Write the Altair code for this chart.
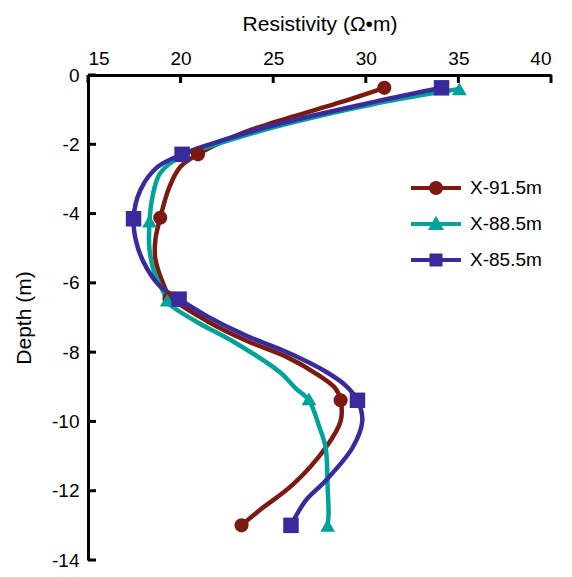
import altair as alt
import pandas as pd

series = ["X-91.5m", "X-88.5m", "X-85.5m"]
colors = ["#7c1a12", "#00a39a", "#3a2b9c"]
shapes = ["circle", "triangle-up", "square"]
sizes = [200, 240, 190]

# line traces (resistivity, depth)
line_res_915 = [31.0, 28.74, 25.16, 23.4, 20.94, 19.97, 19.39, 18.9, 18.64, 18.64, 19.12, 19.39,
                21.42, 23.56, 25.7, 27.46, 28.37, 28.64, 28.64, 27.83, 26.07, 24.25, 23.29]
line_dep_915 = [-0.37, -0.77, -1.35, -1.66, -2.29, -2.66, -3.24, -4.12, -4.75, -5.32, -6.1, -6.38,
                -7.1, -7.67, -8.13, -8.67, -9.05, -9.39, -9.99, -10.76, -11.82, -12.57, -13.0]

line_res_885 = [35.05, 30.51, 25.16, 21.58, 20.13, 18.9, 18.48, 18.32, 18.32, 18.58, 19.17, 19.28,
                20.88, 22.86, 25.32, 26.23, 26.93, 27.46, 27.83, 27.94, 27.99, 27.94]
line_dep_885 = [-0.4, -0.83, -1.49, -2.06, -2.32, -2.83, -3.52, -4.24, -5.04, -5.7, -6.38, -6.56,
                -7.13, -7.7, -8.56, -9.05, -9.39, -10.11, -10.76, -11.91, -12.68, -13.0]

line_res_855 = [34.09, 30.51, 25.16, 21.58, 20.08, 18.74, 17.83, 17.46, 17.67, 18.21, 18.9, 19.92,
                21.42, 23.56, 25.7, 27.83, 28.9, 29.55, 29.81, 29.28, 27.83, 26.76, 25.96]
line_dep_855 = [-0.37, -0.77, -1.43, -2.0, -2.29, -2.66, -3.32, -4.15, -4.95, -5.61, -6.1, -6.47,
                -6.96, -7.53, -7.99, -8.56, -8.96, -9.39, -9.99, -10.76, -11.71, -12.28, -13.0]

# marker points
mk_res_915 = [31.0, 20.94, 18.9, 19.4, 28.64, 23.29]
mk_dep_915 = [-0.37, -2.29, -4.12, -6.45, -9.39, -13.0]
mk_res_885 = [35.05, 20.13, 18.32, 19.28, 26.93, 27.94]
mk_dep_885 = [-0.4, -2.32, -4.22, -6.5, -9.35, -13.0]
mk_res_855 = [34.09, 20.08, 17.46, 19.92, 29.55, 25.96]
mk_dep_855 = [-0.37, -2.29, -4.15, -6.47, -9.39, -13.0]

x_ticks = [15, 20, 25, 30, 35, 40]
y_ticks = [0, -2, -4, -6, -8, -10, -12, -14]

lines = []
for s, rr, dd in [(series[0], line_res_915, line_dep_915),
                  (series[1], line_res_885, line_dep_885),
                  (series[2], line_res_855, line_dep_855)]:
    for i, (r, d) in enumerate(zip(rr, dd)):
        lines.append({"series": s, "res": r, "depth": d, "idx": i})
line_df = pd.DataFrame(lines)

marks = []
for s, rr, dd in [(series[0], mk_res_915, mk_dep_915),
                  (series[1], mk_res_885, mk_dep_885),
                  (series[2], mk_res_855, mk_dep_855)]:
    for r, d in zip(rr, dd):
        marks.append({"pseries": s, "pshape": s, "psize": s, "res": r, "depth": d})
mark_df = pd.DataFrame(marks)

FONT = "Liberation Sans"

xscale = alt.Scale(domain=[15, 40], nice=False, zero=False)
yscale = alt.Scale(domain=[-14, 0], nice=False, zero=False)

# legend symbol paths (line + marker)
bar = "M-1.667,-0.133H1.667V0.133H-1.667Z"
p_circle = bar + "M-0.467,0A0.467,0.467 0 1,1 0.467,0A0.467,0.467 0 1,1 -0.467,0Z"
p_tri = bar + "M0,-0.55L0.533,0.4L-0.533,0.4Z"
p_sq = bar + "M-0.433,-0.433H0.433V0.433H-0.433Z"
shape_expr = (f"datum.value === '{series[0]}' ? '{p_circle}' : "
              f"datum.value === '{series[1]}' ? '{p_tri}' : '{p_sq}'")
fill_expr = (f"datum.value === '{series[0]}' ? '{colors[0]}' : "
             f"datum.value === '{series[1]}' ? '{colors[1]}' : '{colors[2]}'")

legend = alt.Legend(
    title=None, orient="none", legendX=333, legendY=98, padding=0,
    symbolSize=900, labelOffset=19, rowPadding=11,
    symbolType=alt.ExprRef(expr=shape_expr),
    symbolFillColor=alt.ExprRef(expr=fill_expr),
    symbolStrokeWidth=0, symbolOpacity=1,
    labelFontSize=19, labelFont=FONT, labelColor="black",
)

x_enc = alt.X("res:Q", scale=xscale, axis=alt.Axis(
    orient="top", values=x_ticks, ticks=False, grid=False,
    domainWidth=3, domainColor="black", labelFontSize=19, labelFont=FONT,
    labelColor="black", labelPadding=7, title="Resistivity (Ω•m)",
    titleFontSize=21, titleFont=FONT, titleFontWeight="normal",
    titleColor="black", titlePadding=15))
y_enc = alt.Y("depth:Q", scale=yscale, axis=alt.Axis(
    orient="left", values=y_ticks, ticks=False, grid=False,
    domainWidth=3, domainColor="black", labelFontSize=19, labelFont=FONT,
    labelColor="black", labelPadding=9, labelExpr="'' + datum.value",
    title="Depth (m)", titleFontSize=21, titleFont=FONT,
    titleFontWeight="normal", titleColor="black", titlePadding=17))

line_layer = alt.Chart(line_df).mark_line(
    strokeWidth=4.5, strokeJoin="round", strokeCap="round", interpolate="catmull-rom"
).encode(
    x=x_enc, y=y_enc,
    color=alt.Color("series:N", scale=alt.Scale(domain=series, range=colors),
                    legend=legend, sort=series),
    order=alt.Order("idx:Q"),
)

point_layer = alt.Chart(mark_df).mark_point(filled=True, opacity=1, strokeWidth=0).encode(
    x=alt.X("res:Q", scale=xscale),
    y=alt.Y("depth:Q", scale=yscale),
    color=alt.Color("pseries:N", scale=alt.Scale(domain=series, range=colors), legend=None),
    shape=alt.Shape("pshape:N", scale=alt.Scale(domain=series, range=shapes), legend=None),
    size=alt.Size("psize:N", scale=alt.Scale(domain=series, range=sizes), legend=None),
)

xt_df = pd.DataFrame({"t": x_ticks})
yt_df = pd.DataFrame({"t": y_ticks})
xtick_layer = alt.Chart(xt_df).mark_rule(color="black", strokeWidth=3).encode(
    x=alt.X("t:Q", scale=xscale), y=alt.value(0), y2=alt.value(8))
ytick_layer = alt.Chart(yt_df).mark_rule(color="black", strokeWidth=3).encode(
    y=alt.Y("t:Q", scale=yscale), x=alt.value(0), x2=alt.value(8))

chart = alt.layer(xtick_layer, ytick_layer, line_layer, point_layer).properties(
    width=463, height=485,
    padding={"left": 5, "top": 5, "right": 0, "bottom": 0},
).resolve_scale(color="independent").configure(
    font=FONT, background="white", view=alt.ViewConfig(stroke=None)
)

chart.save("out.html", embed_options={"renderer": "svg", "actions": False})
